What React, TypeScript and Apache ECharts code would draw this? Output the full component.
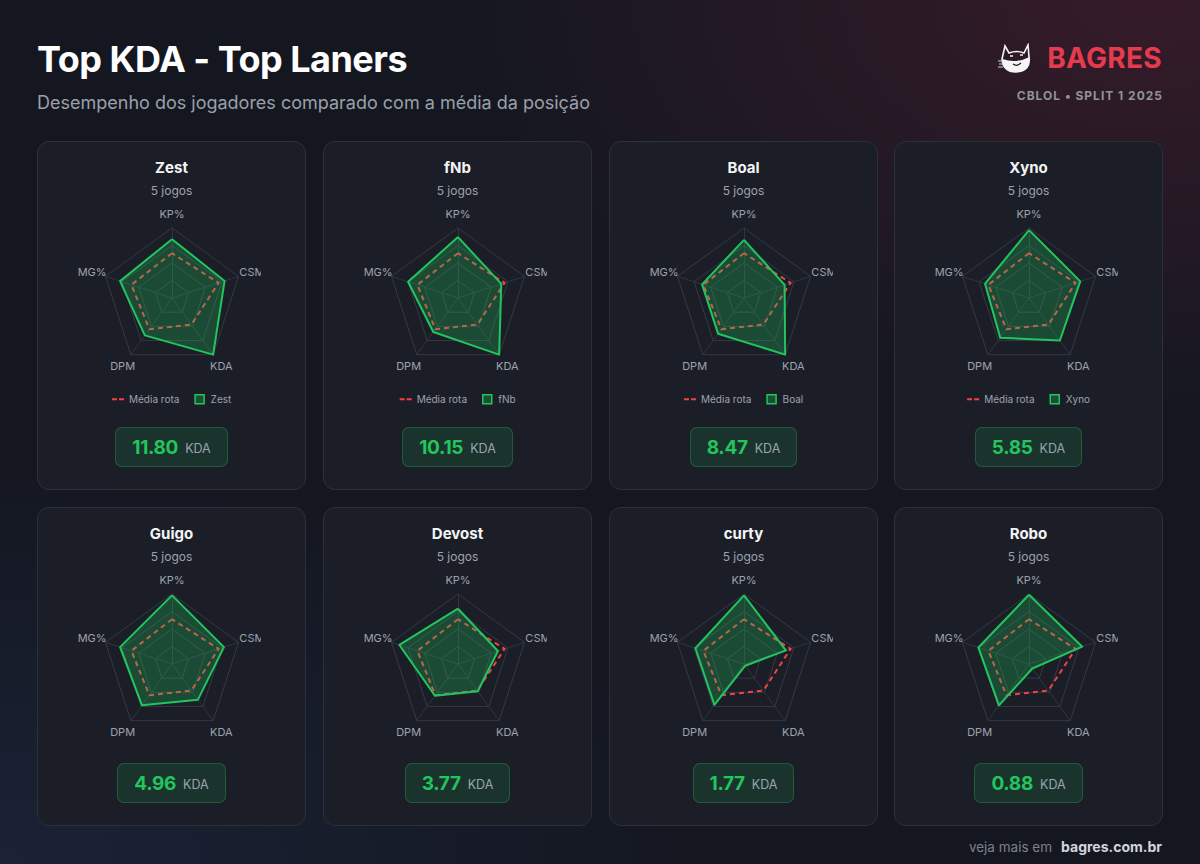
import React, { useEffect, useRef } from "react";
import * as echarts from "echarts";

// ---------- DATA ----------
const axisNames = ["KP%", "CSM", "KDA", "DPM", "MG%"];
const players = ["Zest", "fNb", "Boal", "Xyno", "Guigo", "Devost", "curty", "Robo"];
const gamesPlayed = [5, 5, 5, 5, 5, 5, 5, 5];
const kdaLabels = ["11.80", "10.15", "8.47", "5.85", "4.96", "3.77", "1.77", "0.88"];
// values per axis in order KP%, CSM, KDA, DPM, MG% (0-100 scale)
const zestValues = [84, 79, 100, 66, 78];
const fnbValues = [87, 65, 100, 60, 75];
const boalValues = [83, 61, 100, 63, 63];
const xynoValues = [97, 77, 75, 70, 66];
const guigoValues = [98, 78, 63, 73, 78];
const devostValues = [79, 60, 48, 56, 88];
const curtyValues = [98, 63, 3, 72, 73];
const roboValues = [99, 80, 8, 73, 76];
const roleAverage = [64, 70, 47, 55, 61];
const playerValues = [zestValues, fnbValues, boalValues, xynoValues, guigoValues, devostValues, curtyValues, roboValues];
const averageName = "Média rota";

// ECharts places indicators counter-clockwise from the top
const ecOrder = [0, 4, 3, 2, 1];
const reorder = (v: number[]) => ecOrder.map((i) => v[i]);

const GREEN = "#22c55e";
const RED = "#ef4444";
const GRAY = "#9ca3af";
const FONT = "Inter, 'Noto Sans', sans-serif";

function measure(t: string, font: string) {
  const ctx = document.createElement("canvas").getContext("2d")!;
  ctx.font = font;
  return ctx.measureText(t).width;
}

function RadarChart({ idx, withLegend }: { idx: number; withLegend: boolean }) {
  const ref = useRef<HTMLDivElement>(null);
  useEffect(() => {
    const chart = echarts.init(ref.current!, null, { renderer: "svg" });
    const name = players[idx];
    const lf = "10px Inter";
    const legendW = 12 + 5 + measure(averageName, lf) + 15 + 12 + 5 + measure(name, lf);
    const cx = 104;
    chart.setOption({
      animation: false,
      radar: {
        center: [cx, 100],
        radius: 70,
        startAngle: 90,
        splitNumber: 4,
        shape: "polygon",
        nameGap: 14,
        indicator: reorder(axisNames).map((n) => ({ name: n, min: 0, max: 100 })),
        axisName: {
          color: GRAY,
          fontSize: 11,
          fontFamily: FONT,
          align: "center",
          verticalAlign: "middle",
        },
        splitLine: { lineStyle: { color: "#343944", width: 1 } },
        splitArea: { show: false },
        axisLine: { lineStyle: { color: "#2f343e", width: 1 } },
        axisTick: { show: false },
        axisLabel: { show: false },
      },
      legend: withLegend
        ? {
            show: true,
            left: cx - legendW / 2,
            top: 196,
            itemWidth: 12,
            itemHeight: 9,
            itemGap: 15,
            padding: 0,
            selectedMode: false,
            textStyle: { color: GRAY, fontSize: 10, fontFamily: FONT },
            data: [
              {
                name: averageName,
                icon: "path://M0,0h0.01v0.01h-0.01z M11.99,8.99h0.01v0.01h-0.01z M0,3.6h5v1.8h-5z M7,3.6h5v1.8h-5z",
                itemStyle: { color: RED, borderWidth: 0 },
              },
              {
                name,
                icon: "path://M0,0h9v9h-9z",
                itemStyle: { color: "rgba(34,197,94,0.3)", borderColor: GREEN, borderWidth: 1.5 },
              },
            ],
          }
        : { show: false },
      series: [
        {
          type: "radar",
          radarIndex: 0,
          symbol: "none",
          z: 2,
          data: [
            {
              name: averageName,
              value: reorder(roleAverage),
              lineStyle: { color: RED, width: 2, type: [5, 4] },
              itemStyle: { color: RED },
            },
          ],
        },
        {
          type: "radar",
          radarIndex: 0,
          symbol: "none",
          z: 3,
          data: [
            {
              name,
              value: reorder(playerValues[idx]),
              lineStyle: { color: GREEN, width: 2 },
              itemStyle: { color: GREEN },
              areaStyle: { color: "rgba(34,197,94,0.38)" },
            },
          ],
        },
      ],
    });
    return () => chart.dispose();
  }, [idx, withLegend]);
  return (
    <div
      ref={ref}
      style={{ position: "absolute", left: 30, top: 56, width: 193, height: withLegend ? 230 : 200 }}
    />
  );
}

function Card({ idx }: { idx: number }) {
  const col = idx % 4;
  const row = Math.floor(idx / 4);
  const top = row === 0;
  const x = [37, 323, 609, 894][col];
  const y = top ? 141 : 507;
  const h = top ? 349 : 319;
  return (
    <div
      style={{
        position: "absolute",
        left: x,
        top: y,
        width: 269,
        height: h,
        boxSizing: "border-box",
        background: "#1b1e27",
        border: "1px solid #2c3039",
        borderRadius: 12,
      }}
    >
      <div
        style={{
          position: "absolute",
          left: 0,
          right: 0,
          top: 16,
          height: 20,
          lineHeight: "20px",
          textAlign: "center",
          color: "#f3f4f6",
          fontWeight: 700,
          fontSize: 15,
          fontFamily: FONT,
        }}
      >
        {players[idx]}
      </div>
      <div
        style={{
          position: "absolute",
          left: 0,
          right: 0,
          top: 40,
          height: 18,
          lineHeight: "18px",
          textAlign: "center",
          color: GRAY,
          fontSize: 12,
          fontFamily: FONT,
        }}
      >
        {gamesPlayed[idx]} jogos
      </div>
      <RadarChart idx={idx} withLegend={top} />
      <div
        style={{
          position: "absolute",
          left: 0,
          right: 0,
          top: top ? 285 : 255,
          display: "flex",
          justifyContent: "center",
        }}
      >
        <div
          style={{
            height: 40,
            boxSizing: "border-box",
            padding: "0 16px",
            display: "flex",
            alignItems: "center",
            gap: 7,
            background: "rgba(34,197,94,0.13)",
            border: "1px solid rgba(34,197,94,0.3)",
            borderRadius: 7,
            fontFamily: FONT,
          }}
        >
          <span style={{ color: GREEN, fontWeight: 700, fontSize: 19, letterSpacing: -0.3 }}>{kdaLabels[idx]}</span>
          <span style={{ color: GRAY, fontSize: 12.5, paddingTop: 2 }}>KDA</span>
        </div>
      </div>
    </div>
  );
}

function Logo() {
  return (
    <svg width={36} height={31} viewBox="0 0 36 31" style={{ position: "absolute", left: 998, top: 43 }}>
      <path d="M7 3 L11 10 Q19 7 26 10 L30 2 L31 14 Q33 28 18 29 Q5 29 4 16 Z" fill="none" stroke="#f5f5f5" strokeWidth={1.6} />
      <path d="M4.5 16 Q18 21 31.5 14 Q33 28 18 29 Q5 29 4.5 16 Z" fill="#f5f5f5" />
      <path d="M15 21 Q19 24 23 20" stroke="#222" strokeWidth={1.2} fill="none" />
      <path d="M12 13 h3 M22 12 h3" stroke="#f5f5f5" strokeWidth={1.4} />
      <path d="M0 18 h5 M1 21 h4 M0 24 h5" stroke="#cfcfcf" strokeWidth={1.2} />
    </svg>
  );
}

export default function App() {
  return (
    <div
      style={{
        position: "absolute",
        left: 0,
        top: 0,
        width: 1200,
        height: 864,
        overflow: "hidden",
        fontFamily: FONT,
        background:
          "radial-gradient(ellipse 700px 420px at 1150px 0px, rgba(95,32,52,0.45), rgba(95,32,52,0) 100%)," +
          "radial-gradient(ellipse 700px 400px at 0px 864px, rgba(40,55,95,0.35), rgba(40,55,95,0) 100%)," +
          "#141720",
      }}
    >
      <div
        style={{
          position: "absolute",
          left: 37,
          top: 41,
          height: 36,
          lineHeight: "36px",
          fontSize: 36,
          fontWeight: 700,
          letterSpacing: -0.5,
          color: "#ffffff",
          whiteSpace: "nowrap",
        }}
      >
        Top KDA - Top Laners
      </div>
      <div
        style={{
          position: "absolute",
          left: 37,
          top: 94,
          height: 18,
          lineHeight: "18px",
          fontSize: 18,
          color: "#9aa0aa",
          whiteSpace: "nowrap",
        }}
      >
        Desempenho dos jogadores comparado com a média da posição
      </div>
      <Logo />
      <div
        style={{
          position: "absolute",
          right: 38,
          top: 44,
          height: 28,
          lineHeight: "28px",
          fontSize: 28,
          fontWeight: 700,
          color: "#e63a4f",
          letterSpacing: 0.3,
        }}
      >
        BAGRES
      </div>
      <div
        style={{
          position: "absolute",
          right: 37,
          top: 89,
          height: 14,
          lineHeight: "14px",
          fontSize: 12,
          fontWeight: 700,
          color: "#8e939c",
          letterSpacing: 1,
          whiteSpace: "nowrap",
        }}
      >
        CBLOL • SPLIT 1 2025
      </div>
      {players.map((_, i) => (
        <Card key={i} idx={i} />
      ))}
      <div
        style={{
          position: "absolute",
          right: 38,
          top: 837,
          height: 18,
          lineHeight: "18px",
          whiteSpace: "nowrap",
        }}
      >
        <span style={{ color: "#7c818c", fontSize: 13.5 }}>veja mais em</span>
        <span style={{ color: "#d1d5db", fontSize: 14, fontWeight: 700, marginLeft: 9 }}>bagres.com.br</span>
      </div>
    </div>
  );
}
